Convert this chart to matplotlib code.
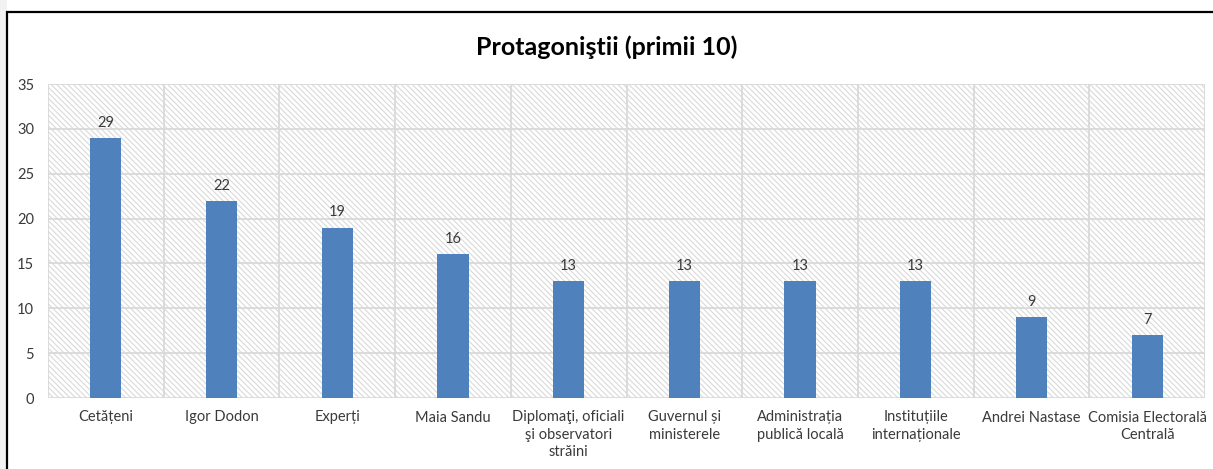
import matplotlib
matplotlib.use('Agg')
import matplotlib.pyplot as plt
from matplotlib.patches import Rectangle
import numpy as np

# top 10 protagonists, number of appearances
categories = ['Cetățeni', 'Igor Dodon', 'Experți', 'Maia Sandu',
              'Diplomaţi, oficiali\nşi observatori\nstrăini',
              'Guvernul și\nministerele', 'Administrația\npublică locală',
              'Instituțiile\ninternaționale', 'Andrei Nastase',
              'Comisia Electorală\nCentrală']
values = [29, 22, 19, 16, 13, 13, 13, 13, 9, 7]
yticks = [0, 5, 10, 15, 20, 25, 30, 35]

plt.rcParams['font.family'] = ['Lato', 'DejaVu Sans']
plt.rcParams['hatch.color'] = '#d0d0d0'
plt.rcParams['hatch.linewidth'] = 0.8
txt = '#3a3a3a'
grid = '#d9d9d9'

W, H = 1213, 469
fig = plt.figure(figsize=(W / 100, H / 100), dpi=100)
fig.patch.set_facecolor('white')

# gray margin on the left and chart frame
fig.add_artist(Rectangle((0, 0), 7 / W, 1, transform=fig.transFigure,
                         facecolor='#f2f2f2', edgecolor='none'))
fig.add_artist(Rectangle((7 / W, -0.1), 1.1, 1.1 - 12 / H, transform=fig.transFigure,
                         facecolor='none', edgecolor='black', linewidth=1.6))

ax = fig.add_axes([48 / W, 1 - 398 / H, (1205 - 48) / W, (398 - 84) / H])
ax.set_facecolor('white')

x = np.arange(len(categories))
ax.set_xlim(-0.5, len(categories) - 0.5)
ax.set_ylim(0, 35)

# hatched plot area
ax.add_patch(Rectangle((0, 0), 1, 1, transform=ax.transAxes, facecolor='white',
                       edgecolor=grid, hatch='\\\\\\\\\\\\', linewidth=0, zorder=0))

for yv in yticks:
    ax.axhline(yv, color=grid, linewidth=1.3, zorder=1)
for xv in np.arange(-0.5, len(categories), 1.0):
    ax.axvline(xv, color=grid, linewidth=1.3, zorder=1)

bars = ax.bar(x, values, width=0.27, color='#4f81bd', zorder=3)
for xi, v in zip(x, values):
    ax.text(xi, v + 0.9, str(v), ha='center', va='bottom', fontsize=10.5, color=txt)

for s in ax.spines.values():
    s.set_visible(False)

ax.set_yticks(yticks)
ax.set_xticks(x)
ax.set_xticklabels(categories, fontsize=10.5, color=txt, linespacing=1.3)
ax.tick_params(axis='y', labelsize=10.5, labelcolor=txt, length=0, pad=10)
ax.tick_params(axis='x', length=0, pad=9)

fig.text(0.5, 1 - 47 / H, 'Protagoniştii (primii 10)', ha='center', va='center',
         fontsize=18, fontweight='bold', color='black')

fig.savefig('out.png', dpi=100)
